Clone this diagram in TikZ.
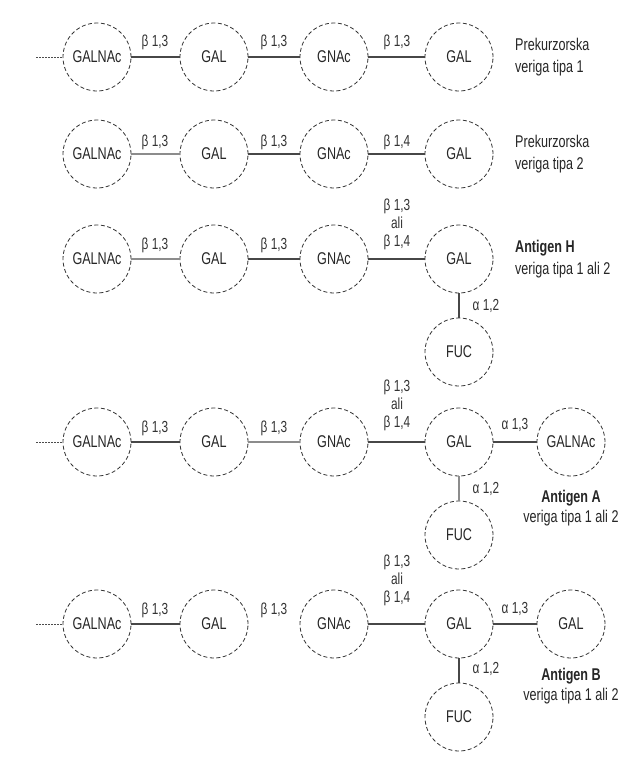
\documentclass[tikz,border=0pt]{standalone}
\usepackage{fontspec}
\setmainfont{Liberation Sans}[FakeStretch=0.74]
\begin{document}
\begin{tikzpicture}[x=1pt,y=-1pt,
  sugar/.style={circle, draw=black!80, dash pattern=on 4pt off 2.5pt, line width=0.8pt,
    minimum size=68pt, inner sep=0pt, font=\fontsize{17}{17}\selectfont, text=black!85},
  bond/.style={line width=1.5pt, draw=black!72},
  lbond/.style={line width=1.2pt, draw=black!45},
  lead/.style={line width=0.9pt, draw=black!70, dash pattern=on 1.5pt off 1.5pt},
  blab/.style={inner sep=0pt, font=\fontsize{16}{16}\selectfont, text=black!80},
  stack/.style={inner sep=0pt, align=center, font=\fontsize{16}{18}\selectfont, text=black!80},
  side/.style={inner sep=0pt, align=left, anchor=west, font=\fontsize{17}{22}\selectfont, text=black!85},
  sidec/.style={inner sep=0pt, align=center, font=\fontsize{17}{20}\selectfont, text=black!85}]
\useasboundingbox (0,0) rectangle (629,758);
\fill[white] (0,0) rectangle (629,758);

% ---- Row 1 ----
\node[sugar] (a1) at (97,57) {GALNAc};
\node[sugar] (a2) at (214,57) {GAL};
\node[sugar] (a3) at (334,57) {GNAc};
\node[sugar] (a4) at (459,57) {GAL};
\coordinate (a0) at (36,57);
\draw[lead] (a0) -- (a1);
\draw[bond] (a1) -- (a2);
\draw[bond] (a2) -- (a3);
\draw[bond] (a3) -- (a4);
\node[blab] (la1) at (155,42) {β 1,3};
\node[blab] (la2) at (274,42) {β 1,3};
\node[blab] (la3) at (397,42) {β 1,3};
\node[side] (ta) at (515,57) {Prekurzorska\\veriga tipa 1};

% ---- Row 2 ----
\node[sugar] (b1) at (97,154) {GALNAc};
\node[sugar] (b2) at (214,154) {GAL};
\node[sugar] (b3) at (334,154) {GNAc};
\node[sugar] (b4) at (459,154) {GAL};
\draw[lbond] (b1) -- (b2);
\draw[bond] (b2) -- (b3);
\draw[bond] (b3) -- (b4);
\node[blab] (lb1) at (155,142) {β 1,3};
\node[blab] (lb2) at (274,142) {β 1,3};
\node[blab] (lb3) at (397,142) {β 1,4};
\node[side] (tb) at (515,154) {Prekurzorska\\veriga tipa 2};

% ---- Row 3 ----
\node[sugar] (c1) at (97,259) {GALNAc};
\node[sugar] (c2) at (214,259) {GAL};
\node[sugar] (c3) at (334,259) {GNAc};
\node[sugar] (c4) at (459,259) {GAL};
\node[sugar] (c5) at (459,352) {FUC};
\draw[lbond] (c1) -- (c2);
\draw[bond] (c2) -- (c3);
\draw[bond] (c3) -- (c4);
\draw[bond] (c4) -- (c5);
\node[blab] (lc1) at (155,245) {β 1,3};
\node[blab] (lc2) at (274,245) {β 1,3};
\node[stack] (lc3) at (397,224) {β 1,3\\ali\\β 1,4};
\node[blab] (lc4) at (486,306) {α 1,2};
\node[side] (tc) at (515,259) {\bfseries Antigen H\\veriga tipa 1 ali 2};

% ---- Row 4 ----
\node[sugar] (d1) at (97,442) {GALNAc};
\node[sugar] (d2) at (214,442) {GAL};
\node[sugar] (d3) at (334,442) {GNAc};
\node[sugar] (d4) at (459,442) {GAL};
\node[sugar] (d5) at (571,442) {GALNAc};
\node[sugar] (d6) at (459,535) {FUC};
\coordinate (d0) at (36,442);
\draw[lead] (d0) -- (d1);
\draw[bond] (d1) -- (d2);
\draw[lbond] (d2) -- (d3);
\draw[bond] (d3) -- (d4);
\draw[bond, line width=2.2pt] (d4) -- (d5);
\draw[lbond] (d4) -- (d6);
\node[blab] (ld1) at (155,428) {β 1,3};
\node[blab] (ld2) at (274,428) {β 1,3};
\node[stack] (ld3) at (397,405) {β 1,3\\ali\\β 1,4};
\node[blab] (ld4) at (515,425) {α 1,3};
\node[blab] (ld5) at (486,489) {α 1,2};
\node[sidec] (td) at (571,508) {\bfseries Antigen A\\veriga tipa 1 ali 2};

% ---- Row 5 ----
\node[sugar] (e1) at (97,624) {GALNAc};
\node[sugar] (e2) at (214,624) {GAL};
\node[sugar] (e3) at (334,624) {GNAc};
\node[sugar] (e4) at (459,624) {GAL};
\node[sugar] (e5) at (571,624) {GAL};
\node[sugar] (e6) at (459,717) {FUC};
\coordinate (e0) at (36,624);
\draw[lead] (e0) -- (e1);
\draw[bond] (e1) -- (e2);
\draw[bond] (e3) -- (e4);
\draw[bond] (e4) -- (e5);
\draw[bond] (e4) -- (e6);
\node[blab] (le1) at (155,610) {β 1,3};
\node[blab] (le2) at (274,610) {β 1,3};
\node[stack] (le3) at (397,580) {β 1,3\\ali\\β 1,4};
\node[blab] (le4) at (515,609) {α 1,3};
\node[blab] (le5) at (486,669) {α 1,2};
\node[sidec] (te) at (571,686) {\bfseries Antigen B\\veriga tipa 1 ali 2};
\end{tikzpicture}
\end{document}
